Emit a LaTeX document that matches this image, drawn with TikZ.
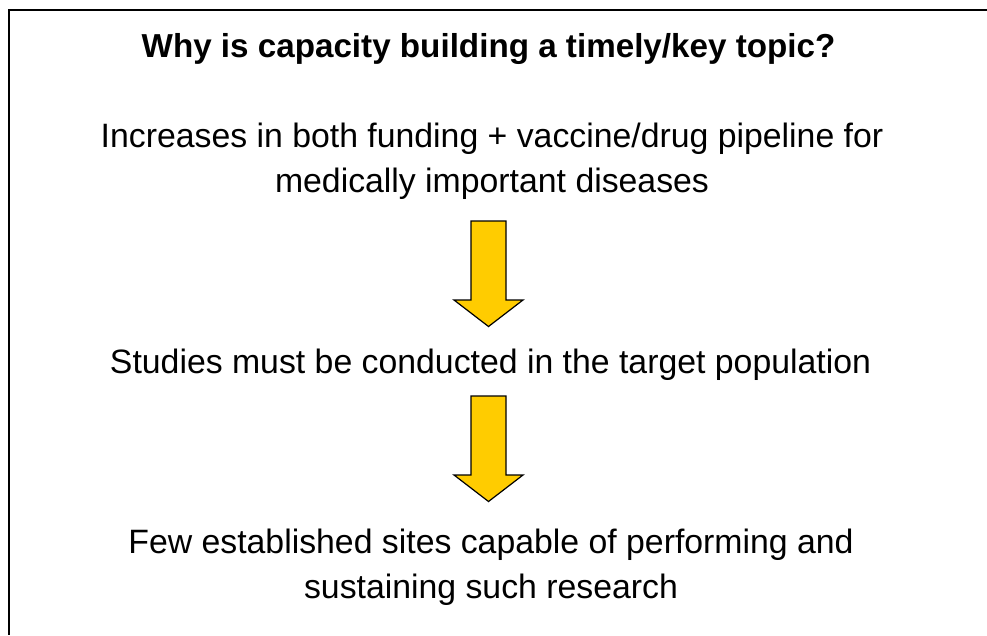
\documentclass[tikz,border=0pt]{standalone}
\usepackage{fontspec}
\setmainfont{Liberation Sans}
\begin{document}
\begin{tikzpicture}[x=1pt,y=-1pt,
  line/.style={font=\fontsize{33.8}{45}\selectfont, anchor=base, inner sep=0pt},
  heading/.style={font=\fontsize{33.2}{40}\selectfont\bfseries, anchor=base, inner sep=0pt},
  frame/.style={line width=1.5pt, draw=black},
  yellowarrow/.pic={
    \filldraw[fill=arrowfill, draw=black, line width=1.2pt, line join=miter]
      (-17.5,0) -- (17.5,0) -- (17.5,79) -- (34.5,79) -- (0,105.5)
      -- (-34.5,79) -- (-17.5,79) -- cycle;
  }]
\definecolor{arrowfill}{HTML}{FFCC00}
\useasboundingbox (0,0) rectangle (987,635);
% open frame: top and left edges only
\draw[frame] (987,10) -- (9,10) -- (9,635);

\node[heading] (title) at (488.5,57) {Why is capacity building a timely/key topic?};

\node[line] (a1) at (492,147) {Increases in both funding + vaccine/drug pipeline for};
\node[line] (a2) at (492,192) {medically important diseases};

\pic (arr1) at (488.5,221) {yellowarrow};

\node[line] (b1) at (490.5,373) {Studies must be conducted in the target population};

\pic (arr2) at (488.5,396) {yellowarrow};

\node[line] (c1) at (491,553) {Few established sites capable of performing and};
\node[line] (c2) at (491,598) {sustaining such research};
\end{tikzpicture}
\end{document}
